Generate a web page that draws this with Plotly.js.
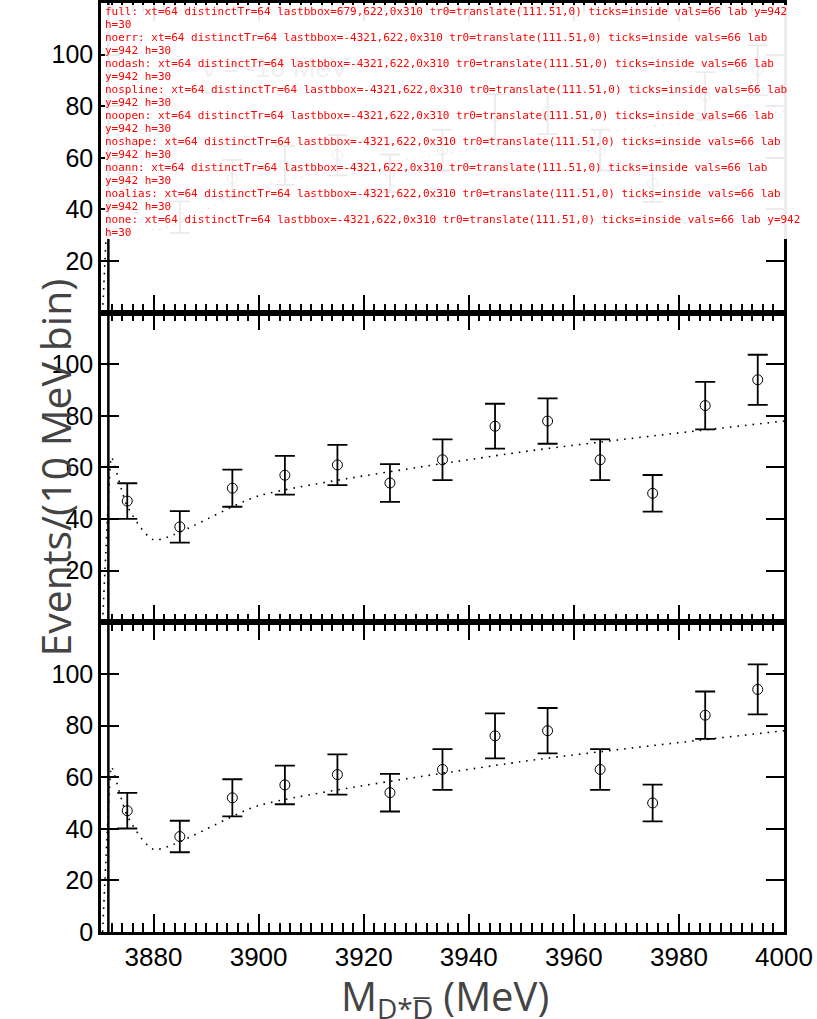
<!DOCTYPE html>
<html>
<head>
<meta charset="utf-8">
<script src="https://cdn.plot.ly/plotly-3.0.1.min.js"></script>
<style>html,body{margin:0;padding:0;background:#fff;}#chart{width:817px;height:1019px;}#err{position:fixed;z-index:1000;left:105px;top:5px;font:11px monospace;color:red;width:700px;white-space:pre-wrap;background:rgba(255,255,255,0.92)}.off{position:absolute;left:-5000px;top:0;}</style>
</head>
<body>
<div id="chart"></div>
<div id="err"></div>
<script>
function log(s){ document.getElementById('err').textContent += s + '\n'; }
window.onerror = function(m, s, l) { log('ERR: ' + m + ' @' + l); };
const xBins = [3875, 3885, 3895, 3905, 3915, 3925, 3935, 3945, 3955, 3965, 3975, 3985, 3995];
const squares = [47, 37, 52, 57, 61, 54, 63, 76, 78, 63, 50, 84, 94];
const squaresErr = [6.9, 6.1, 7.2, 7.5, 7.8, 7.3, 7.9, 8.7, 8.8, 7.9, 7.1, 9.2, 9.7];
const curveX = [3870.3, 3871.6, 3872.0, 3875, 3880, 3900, 3950, 4000];
const curveY = [0, 55, 64, 45, 32, 49, 66, 78];
const font = 'Liberation Sans, Arial, sans-serif';
function xaxis(anchor, labels) {
  return {anchor: anchor, range: [3870, 4000], tick0: 3880, dtick: 20, ticks: 'inside', ticklen: 18, tickwidth: 2,
    tickcolor: 'black', showline: true, linewidth: 2.5, linecolor: 'black', mirror: 'ticks', showgrid: false, zeroline: false,
    showticklabels: labels, tickfont: {family: font, size: 26, color: 'black'},
    minor: {dtick: 2, ticks: 'inside', ticklen: 9, tickwidth: 1.5, tickcolor: 'black'}};
}
function yaxis(domain, showZero, xa, v) {
  const a = {domain: domain, anchor: xa, range: [0, 120], tick0: 0, dtick: 20,
    ticks: 'inside', ticklen: 18, tickwidth: 2, tickcolor: 'black', showline: true, linewidth: 2.5, linecolor: 'black',
    mirror: 'ticks', showgrid: false, zeroline: false, tickfont: {family: font, size: 25, color: 'black'}};
  if (!v.noalias) a.labelalias = showZero ? {'120': ' '} : {'0': ' ', '120': ' '};
  return a;
}
function build(v) {
  const traces = [];
  ['3', '2', ''].forEach(ax => {
    const line = {color: 'black', width: 1.6};
    if (!v.nodash) line.dash = '1.6px,6px';
    if (!v.nospline) { line.shape = 'spline'; line.smoothing = 0.6; }
    traces.push({x: curveX, y: curveY, xaxis: 'x' + ax, yaxis: 'y' + ax, mode: 'lines', type: 'scatter', line: line});
    const t = {x: xBins, y: squares, xaxis: 'x' + ax, yaxis: 'y' + ax, mode: 'markers', type: 'scatter',
      marker: {symbol: v.noopen ? 'square' : 'circle-open', size: 10, color: 'black'}};
    if (!v.noerr) t.error_y = {type: 'data', array: squaresErr, visible: true, color: 'black', thickness: 1.8, width: 10};
    traces.push(t);
  });
  const layout = {width: 817, height: 1019, margin: {l: 101, r: 33, t: 3, b: 87}, showlegend: false,
    xaxis: xaxis('y', true), xaxis2: xaxis('y2', false), xaxis3: xaxis('y3', false),
    yaxis: yaxis([0, 1/3], true, 'x', v), yaxis2: yaxis([1/3, 2/3], false, 'x2', v), yaxis3: yaxis([2/3, 1], false, 'x3', v)};
  if (!v.noshape) layout.shapes = [{type: 'line', xref: 'x', yref: 'paper', x0: 3871.4, x1: 3871.4, y0: 0, y1: 1, line: {color: 'black', width: 2.5}}];
  if (!v.noann) layout.annotations = [
    {xref: 'x', yref: 'y3 domain', x: 3888.8, y: 0.845, xanchor: 'left', showarrow: false, text: '\u03bd = -10 MeV', font: {family: font, size: 27}},
    {xref: 'paper', yref: 'paper', x: -0.1127, y: 0.5, showarrow: false, textangle: -90, text: 'Events/(10 MeV bin)', font: {size: 41}},
    {xref: 'paper', yref: 'paper', x: 0.503, y: -0.037, yanchor: 'top', showarrow: false, text: 'M<sub>D*D\u0305</sub> (MeV)', font: {size: 40}}];
  return [traces, layout];
}
function info(gd, name) {
  const ps = gd.querySelectorAll('path.xtick');
  const tr = new Set(); ps.forEach(p => tr.add(p.getAttribute('transform')));
  let s = name + ': xt=' + ps.length + ' distinctTr=' + tr.size;
  if (ps.length) { const b = ps[ps.length - 1].getBoundingClientRect(); s += ' lastbbox=' + Math.round(b.x) + ',' + Math.round(b.y) + ',' + Math.round(b.width) + 'x' + Math.round(b.height) + ' tr0=' + ps[0].getAttribute('transform'); }
  const ax = gd._fullLayout.xaxis; s += ' ticks=' + ax.ticks + ' vals=' + (ax._vals ? ax._vals.length : '?');
  const lab = gd.querySelector('g.xtick text');
  if (lab) { const b = lab.getBoundingClientRect(); s += ' lab y=' + Math.round(b.y) + ' h=' + Math.round(b.height); }
  log(s);
}
const variants = [['full', {}], ['noerr', {noerr: 1}], ['nodash', {nodash: 1}], ['nospline', {nospline: 1}], ['noopen', {noopen: 1}], ['noshape', {noshape: 1}], ['noann', {noann: 1}], ['noalias', {noalias: 1}], ['none', {noerr:1, nodash:1, nospline:1, noopen:1, noshape:1, noann:1, noalias:1}]];
let chain = Promise.resolve();
variants.forEach((vv, k) => {
  chain = chain.then(() => {
    let d;
    if (k === 0) d = document.getElementById('chart'); else { d = document.createElement('div'); d.className = 'off'; document.body.appendChild(d); }
    const b = build(vv[1]);
    return Plotly.newPlot(d, b[0], b[1], {displayModeBar: false}).then(gd => info(gd, vv[0]));
  }).catch(e => log('CATCH ' + vv[0] + ': ' + e));
});
</script>
</body>
</html>
